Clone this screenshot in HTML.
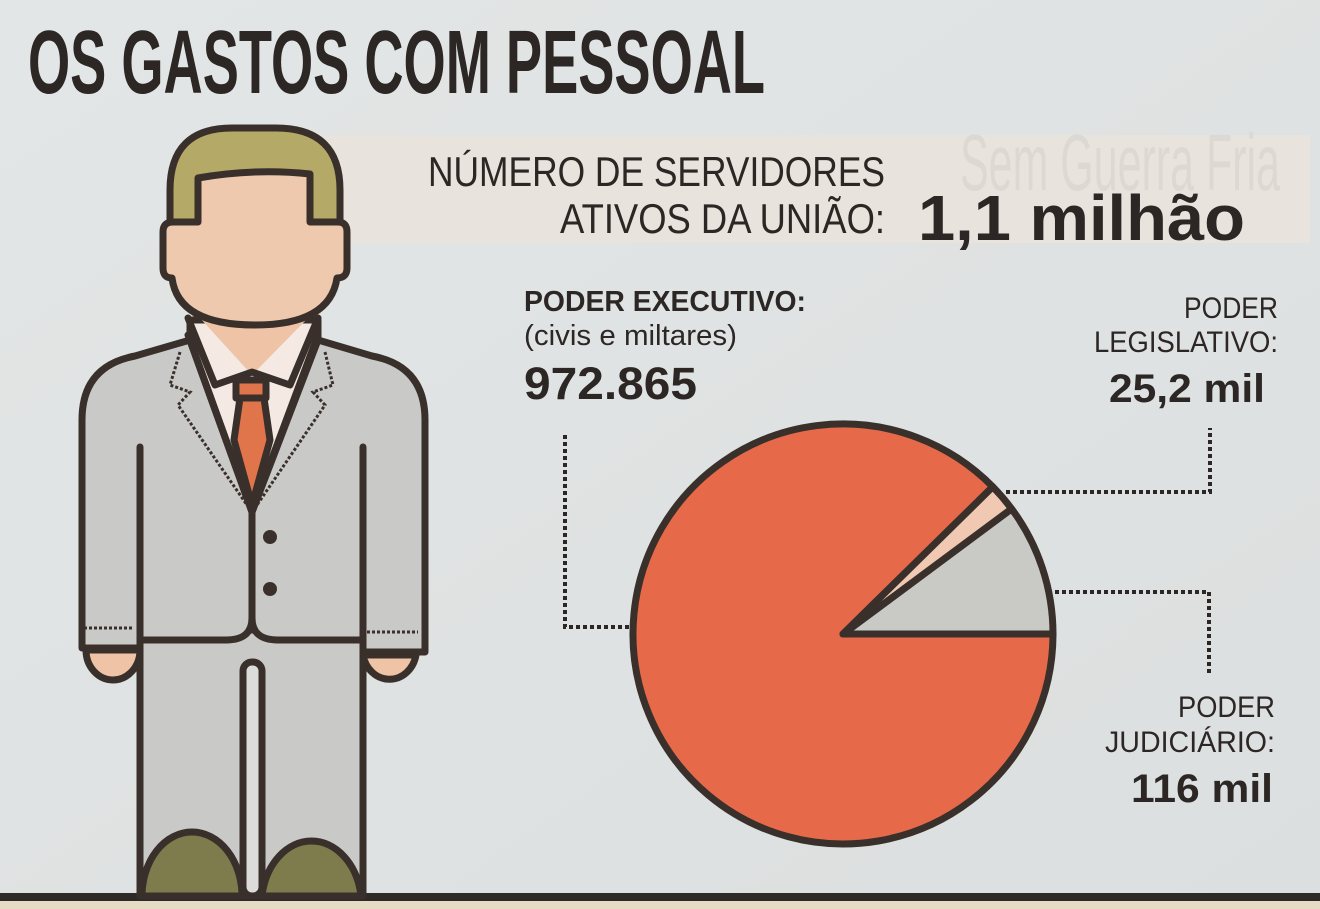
<!DOCTYPE html>
<html><head><meta charset="utf-8"><style>
html,body{margin:0;padding:0;background:#dfe2e2;}
svg{display:block;}
text{font-family:"Liberation Sans Narrow","Liberation Sans",sans-serif;fill:#2c2624;}
</style></head><body>
<svg width="1320" height="909" viewBox="0 0 1320 909" xmlns="http://www.w3.org/2000/svg">
<defs>
<linearGradient id="bg" x1="0" y1="0" x2="1" y2="1">
<stop offset="0" stop-color="#e3e6e6"/><stop offset="1" stop-color="#dcdfdf"/></linearGradient>
</defs>
<rect width="1320" height="909" fill="url(#bg)"/>
<rect x="310" y="135" width="1000" height="108" fill="#e9e3dd"/>
<text x="960" y="190" font-size="80" style="fill:#dcd9d5" textLength="320" lengthAdjust="spacingAndGlyphs">Sem Guerra Fria</text>
<rect x="0" y="893" width="1320" height="8" fill="#2e2a28"/>
<rect x="0" y="901" width="1320" height="8" fill="#e6dcc6"/>

<text x="28" y="93" font-size="90" font-weight="bold" textLength="737" lengthAdjust="spacingAndGlyphs">OS GASTOS COM PESSOAL</text>

<text x="885" y="186" font-size="42" text-anchor="end" textLength="457" lengthAdjust="spacingAndGlyphs">NÚMERO DE SERVIDORES</text>
<text x="885" y="233" font-size="42" text-anchor="end" textLength="325" lengthAdjust="spacingAndGlyphs">ATIVOS DA UNIÃO:</text>
<text x="918" y="240" font-size="64" font-weight="bold" textLength="327" lengthAdjust="spacingAndGlyphs">1,1 milhão</text>

<text x="524" y="311" font-size="29" font-weight="bold" textLength="282" lengthAdjust="spacingAndGlyphs">PODER EXECUTIVO:</text>
<text x="524" y="345" font-size="29" textLength="213" lengthAdjust="spacingAndGlyphs">(civis e miltares)</text>
<text x="524" y="399" font-size="45" font-weight="bold" textLength="173" lengthAdjust="spacingAndGlyphs">972.865</text>

<text x="1278" y="318" font-size="30" text-anchor="end" textLength="94" lengthAdjust="spacingAndGlyphs">PODER</text>
<text x="1278" y="352" font-size="30" text-anchor="end" textLength="184" lengthAdjust="spacingAndGlyphs">LEGISLATIVO:</text>
<text x="1265" y="402" font-size="40" font-weight="bold" text-anchor="end" textLength="156" lengthAdjust="spacingAndGlyphs">25,2 mil</text>

<text x="1275" y="717" font-size="30" text-anchor="end" textLength="97" lengthAdjust="spacingAndGlyphs">PODER</text>
<text x="1275" y="752" font-size="30" text-anchor="end" textLength="170" lengthAdjust="spacingAndGlyphs">JUDICIÁRIO:</text>
<text x="1273" y="802" font-size="40" font-weight="bold" text-anchor="end" textLength="142" lengthAdjust="spacingAndGlyphs">116 mil</text>

<g fill="none" stroke="#2c2624" stroke-width="4" stroke-dasharray="4 3">
<polyline points="565,435 565,627 640,627"/>
<polyline points="1006,492 1210,492 1210,428"/>
<polyline points="1055,592 1209,592 1209,676"/>
</g>

<g stroke="#3a302b" stroke-width="7" stroke-linejoin="round">
<path d="M843,634 L992.8,486.8 A210,210 0 1 0 1053,634 Z" fill="#e66a4a"/>
<path d="M843,634 L1053,634 A210,210 0 0 0 1011.6,508.8 Z" fill="#c9c9c6"/>
<path d="M843,634 L1011.6,508.8 A210,210 0 0 0 992.8,486.8 Z" fill="#f1c9b3"/>
</g>

<g stroke="#3a302b" stroke-width="7" stroke-linejoin="round" stroke-linecap="round">
<rect x="140" y="630" width="223" height="266" fill="#c9c9c7"/>
<rect x="243" y="662" width="19" height="234" rx="9" fill="#dcdcda"/>
<path d="M142,896 A50,64 0 0 1 242,896 Z" fill="#7e7b4c"/>
<path d="M262,896 A50,64 0 0 1 361,896 Z" fill="#7e7b4c"/>
<path d="M86,650 A27,30 0 0 0 140,650 Z" fill="#efc3a6"/>
<path d="M363,655 A27,30 0 0 0 416,655 Z" fill="#efc3a6"/>
<path d="M82,648 L82,420 Q82,366 135,356 L190,340 L318,340 L372,356 Q425,366 425,420 L425,652 L363,652 L363,640 L278,640 Q252,640 252,618 Q252,640 226,640 L140,640 L140,648 Z" fill="#c9c9c7"/>
<line x1="140" y1="447" x2="140" y2="648"/>
<line x1="363" y1="447" x2="363" y2="652"/>
<line x1="252" y1="510" x2="252" y2="620"/>
<path d="M190,320 L318,320 L318,340 L252,512 L190,340 Z" fill="#f4e9e3"/>
<path d="M200,318 L308,318 L252,375 Z" fill="#efc3a6" stroke="none"/>
<path d="M188,318 L215,385 L252,372 L290,385 L318,318" fill="none"/>
<path d="M240,398 L264,398 L270,440 L252,505 L234,440 Z" fill="#e0744b"/>
<rect x="236" y="380" width="30" height="18" fill="#e0744b"/>
<line x1="188" y1="335" x2="252" y2="512"/>
<line x1="318" y1="335" x2="252" y2="512"/>
<path d="M170,255 L170,190 Q170,128 232,128 L276,128 Q340,128 340,190 L340,255 Z" fill="#b4a966"/>
<path d="M198,178 Q255,168 310,174 L310,222 L338,222 Q347,222 347,232 L347,268 Q347,278 337,278 Q330,325 255,325 Q178,325 172,278 Q163,278 163,268 L163,232 Q163,222 173,222 L198,222 Z" fill="#efc9ae"/>
</g>
<circle cx="270" cy="537" r="7" fill="#3a302b"/>
<circle cx="270" cy="589" r="7" fill="#3a302b"/>
<g fill="none" stroke="#3a302b" stroke-width="3" stroke-dasharray="3 2">
<polyline points="180,352 170,385 190,392 178,405 247,505"/>
<polyline points="325,352 333,385 313,392 325,405 257,505"/>
<line x1="84" y1="628" x2="134" y2="628"/>
<line x1="367" y1="632" x2="418" y2="632"/>
</g>
</svg>
</body></html>
